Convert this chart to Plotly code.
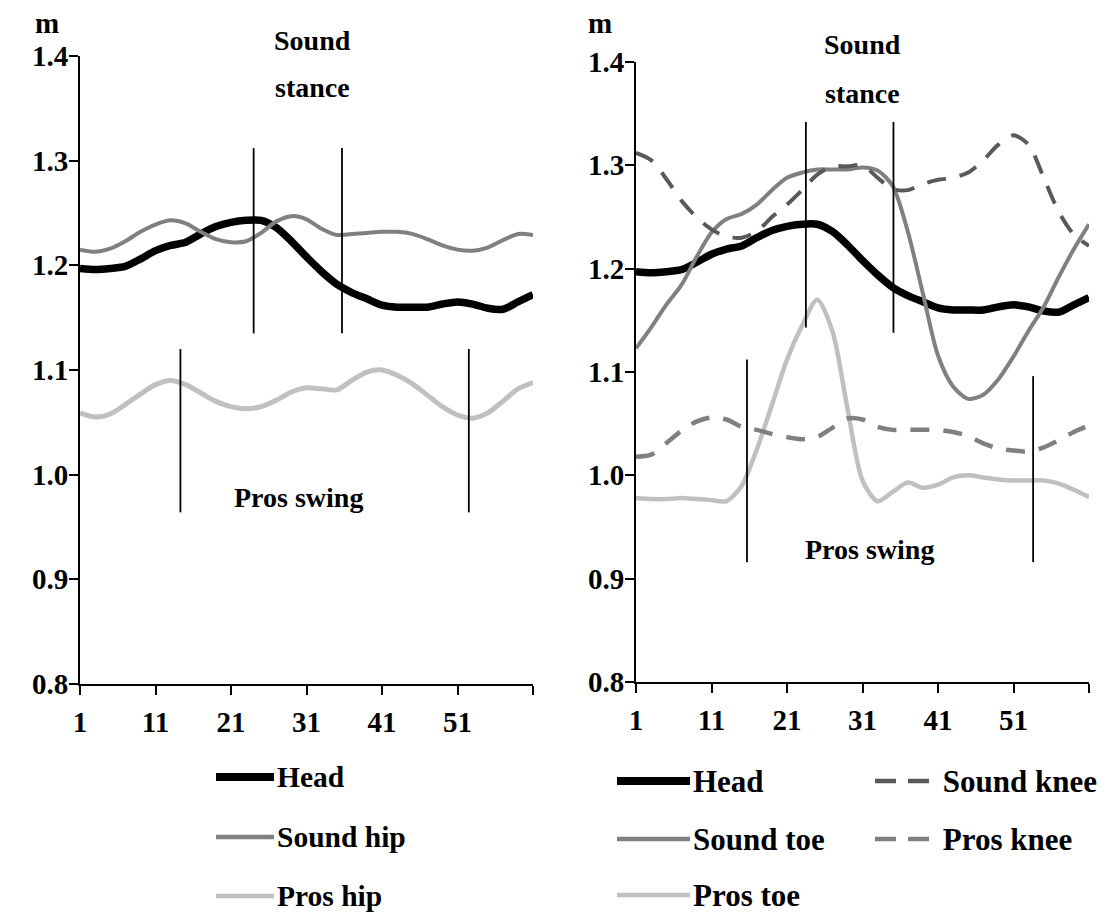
import plotly.graph_objects as go

# ---------------- data ----------------
frames = [1, 3, 5, 7, 9, 11, 13, 15, 17, 19, 21, 23, 25, 27, 29, 31,
          33, 35, 37, 39, 41, 43, 45, 47, 49, 51, 53, 55, 57, 59, 61]

head = [1.197, 1.196, 1.197, 1.199, 1.206, 1.214, 1.219, 1.222, 1.230, 1.237, 1.241,
        1.243, 1.243, 1.236, 1.223, 1.208, 1.194, 1.182, 1.174, 1.168, 1.162, 1.160,
        1.160, 1.160, 1.163, 1.165, 1.163, 1.159, 1.158, 1.165, 1.172]

sound_hip = [1.215, 1.213, 1.216, 1.223, 1.232, 1.239, 1.243, 1.240, 1.232, 1.225, 1.222,
             1.223, 1.231, 1.242, 1.247, 1.244, 1.235, 1.229, 1.230, 1.231, 1.232, 1.232,
             1.230, 1.225, 1.219, 1.215, 1.214, 1.217, 1.224, 1.230, 1.229]

pros_hip = [1.059, 1.055, 1.058, 1.067, 1.077, 1.086, 1.090, 1.086, 1.078, 1.070, 1.065,
            1.063, 1.065, 1.071, 1.079, 1.083, 1.082, 1.081, 1.090, 1.098, 1.100, 1.095,
            1.087, 1.076, 1.065, 1.057, 1.054, 1.059, 1.070, 1.082, 1.088]

sound_toe = [1.123, 1.143, 1.165, 1.184, 1.211, 1.235, 1.248, 1.253, 1.262, 1.276, 1.288,
             1.293, 1.296, 1.296, 1.296, 1.298, 1.295, 1.280, 1.236, 1.176, 1.116, 1.086,
             1.074, 1.078, 1.093, 1.115, 1.140, 1.163, 1.192, 1.219, 1.243]

pros_toe = [0.978, 0.977, 0.977, 0.978, 0.977, 0.976, 0.975, 0.990, 1.025, 1.068, 1.112,
            1.145, 1.170, 1.140, 1.065, 0.995, 0.975, 0.984, 0.993, 0.988, 0.991, 0.998,
            1.000, 0.998, 0.996, 0.995, 0.995, 0.995, 0.992, 0.986, 0.979]

sound_knee = [1.312, 1.305, 1.287, 1.266, 1.250, 1.238, 1.231, 1.230, 1.236, 1.250, 1.262,
              1.276, 1.291, 1.299, 1.299, 1.300, 1.288, 1.277, 1.276, 1.282, 1.286, 1.288,
              1.293, 1.305, 1.320, 1.329, 1.320, 1.288, 1.255, 1.233, 1.222]

pros_knee = [1.018, 1.020, 1.031, 1.043, 1.052, 1.056, 1.054, 1.047, 1.044, 1.040, 1.037,
             1.035, 1.037, 1.046, 1.055, 1.054, 1.047, 1.044, 1.044, 1.044, 1.044, 1.042,
             1.038, 1.031, 1.026, 1.024, 1.023, 1.027, 1.034, 1.042, 1.048]

# phase marker lines: x position, y bottom, y top
left_stance_x = [24.0, 35.7]
left_stance_y = [1.135, 1.312]
left_swing_x = [14.3, 52.5]
left_swing_y = [0.964, 1.120]
right_stance_x = [23.5, 35.1]
right_stance_ybot = [1.143, 1.138]
right_stance_ytop = [1.342, 1.342]
right_swing_x = [15.7, 53.6]
right_swing_ybot = [0.916, 0.916]
right_swing_ytop = [1.112, 1.096]

x_tickvals = [1, 11, 21, 31, 41, 51, 61]
x_ticktext = ["1", "11", "21", "31", "41", "51", ""]
y_tickvals = [0.8, 0.9, 1.0, 1.1, 1.2, 1.3, 1.4]

# ---------------- styling ----------------
FONT = "Liberation Serif"
BLACK = "#000000"
MID = "#808080"
DARK = "#595959"
LIGHT = "#c0c0c0"
W, H = 1117, 913

fig = go.Figure()

def add_line(x, y, color, width, xa, ya, dash=None):
    fig.add_trace(go.Scatter(
        x=x, y=y, mode="lines", xaxis=xa, yaxis=ya, showlegend=False,
        line=dict(color=color, width=width, shape="spline", smoothing=0.8,
                  dash=dash), hoverinfo="skip"))

# left panel
add_line(frames, head, BLACK, 7.5, "x", "y")
add_line(frames, sound_hip, MID, 4, "x", "y")
add_line(frames, pros_hip, LIGHT, 5, "x", "y")

# right panel
add_line(frames, head, BLACK, 7.5, "x2", "y2")
add_line(frames, sound_toe, MID, 4, "x2", "y2")
add_line(frames, pros_toe, LIGHT, 4.5, "x2", "y2")
add_line(frames, sound_knee, DARK, 4, "x2", "y2", dash="19px,14px")
add_line(frames, pros_knee, MID, 4.5, "x2", "y2", dash="19px,14px")

# marker lines
def add_vline(xv, y0, y1, xa, ya):
    fig.add_trace(go.Scatter(x=[xv, xv], y=[y0, y1], mode="lines", xaxis=xa, yaxis=ya,
                             showlegend=False, hoverinfo="skip",
                             line=dict(color=BLACK, width=1.8)))

for xv in left_stance_x:
    add_vline(xv, left_stance_y[0], left_stance_y[1], "x", "y")
for xv in left_swing_x:
    add_vline(xv, left_swing_y[0], left_swing_y[1], "x", "y")
for xv, y0, y1 in zip(right_stance_x, right_stance_ybot, right_stance_ytop):
    add_vline(xv, y0, y1, "x2", "y2")
for xv, y0, y1 in zip(right_swing_x, right_swing_ybot, right_swing_ytop):
    add_vline(xv, y0, y1, "x2", "y2")

xaxis_common = dict(range=[1, 61], tickvals=x_tickvals, ticktext=x_ticktext,
                    showgrid=False, zeroline=False, showline=True, linecolor=BLACK,
                    linewidth=2, ticks="outside", ticklen=9, tickwidth=2, tickcolor=BLACK,
                    tickfont=dict(family=FONT, size=29, color=BLACK, weight="bold"),
                    ticklabelstandoff=2, automargin=False)
yaxis_common = dict(range=[0.8, 1.4], tickvals=y_tickvals, tickformat=".1f",
                    showgrid=False, zeroline=False, showline=True, linecolor=BLACK,
                    linewidth=2, ticks="outside", ticklen=9, tickwidth=2, tickcolor=BLACK,
                    tickfont=dict(family=FONT, size=29, color=BLACK, weight="bold"),
                    ticklabelstandoff=-5, automargin=False)

L_X0, L_X1, L_YB, L_YT = 80, 533, 684, 56
R_X0, R_X1, R_YB, R_YT = 636, 1089, 682, 62

fig.update_layout(
    width=W, height=H,
    margin=dict(l=0, r=0, t=0, b=0, autoexpand=False),
    paper_bgcolor="white", plot_bgcolor="white",
    xaxis=dict(domain=[L_X0 / W, L_X1 / W], anchor="y", **xaxis_common),
    yaxis=dict(domain=[(H - L_YB) / H, (H - L_YT) / H], anchor="x", **yaxis_common),
    xaxis2=dict(domain=[R_X0 / W, R_X1 / W], anchor="y2", **xaxis_common),
    yaxis2=dict(domain=[(H - R_YB) / H, (H - R_YT) / H], anchor="x2", **yaxis_common),
)

annots = []

def bfont(size):
    return dict(family=FONT, size=size, color=BLACK, weight="bold")

def ptxt(px, py, s, size=28, xanchor="center"):
    annots.append(dict(x=px / W, y=1 - py / H, xref="paper", yref="paper", text=s,
                       showarrow=False, font=bfont(size), xanchor=xanchor,
                       yanchor="middle"))

# phase labels (pixel positions of label centres)
ptxt(312, 40, "Sound")
ptxt(312, 88, "stance")
ptxt(298, 498, "Pros swing")
ptxt(862, 45, "Sound")
ptxt(862, 93, "stance")
ptxt(869, 549, "Pros swing")

# unit labels
ptxt(47, 23, "m", size=29)
ptxt(600, 23, "m", size=29)

# legends (custom)
shapes = []

def leg(x0, x1, yp, color, width, label, size, dash=None):
    yy = 1 - yp / H
    shapes.append(dict(type="line", xref="paper", yref="paper", x0=x0 / W, x1=x1 / W,
                       y0=yy, y1=yy, line=dict(color=color, width=width,
                                               dash=dash if dash else "solid")))
    annots.append(dict(x=(x1 + 1) / W, y=yy, xref="paper", yref="paper", text=label,
                       showarrow=False, font=bfont(size), xanchor="left",
                       yanchor="middle"))

leg(216, 274, 777, BLACK, 8, "Head", 29.5)
leg(216, 274, 837, MID, 4.5, "Sound hip", 29.5)
leg(216, 274, 896, LIGHT, 4.5, "Pros hip", 29.5)

leg(617, 690, 781, BLACK, 8, "Head", 31)
leg(617, 690, 839, MID, 4.5, "Sound toe", 31)
leg(617, 690, 895, LIGHT, 4.5, "Pros toe", 31)
leg(875, 932, 781, DARK, 4.5, " Sound knee", 31, dash="21px,12px")
leg(875, 932, 839, MID, 4.5, " Pros knee", 31, dash="21px,12px")

fig.update_layout(annotations=annots, shapes=shapes)

fig.write_html("out.html", config={"displayModeBar": False},
               post_script="document.body.style.margin='0';document.body.style.overflow='hidden';")
